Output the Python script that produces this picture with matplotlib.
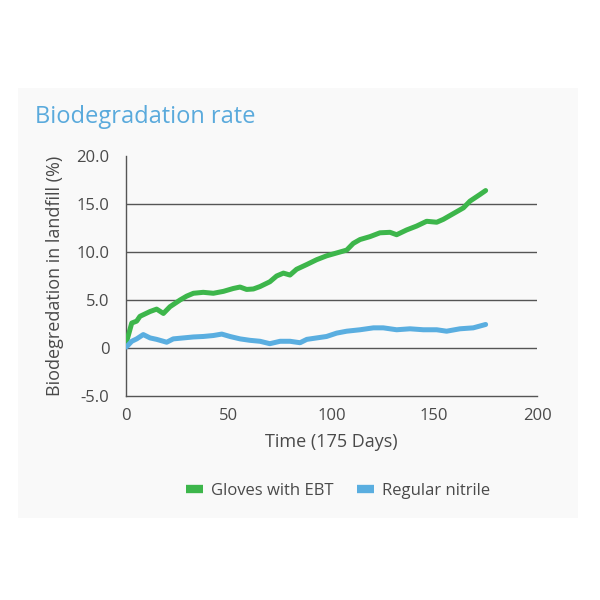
import matplotlib
matplotlib.use("Agg")
import matplotlib.pyplot as plt
from matplotlib.patches import Rectangle
from matplotlib.lines import Line2D

plt.rcParams['font.family'] = ['Open Sans', 'DejaVu Sans']

# Data
ebt_days = [0, 0.6, 2.8, 5.2, 6.8, 11.7, 14.9, 18.2, 21.4, 26.3, 29.5, 32.8, 37.6, 42.5, 47.4,
            52.2, 55.5, 58.7, 62, 65.2, 70, 73.3, 76.6, 79.8, 83, 88, 92.8, 97.6, 102.5,
            107.4, 110.6, 113.9, 118.7, 123.6, 128.5, 131.7, 136.6, 141.4, 146.3, 151.2,
            154.4, 159.3, 164.2, 167.4, 172.3, 175]
ebt_vals = [0.3, 0.9, 2.6, 2.8, 3.3, 3.8, 4.05, 3.6, 4.3, 5.0, 5.4, 5.7, 5.8, 5.7, 5.9,
            6.2, 6.35, 6.1, 6.15, 6.4, 6.9, 7.5, 7.8, 7.6, 8.2, 8.7, 9.2, 9.6, 9.9,
            10.2, 10.9, 11.3, 11.6, 12.0, 12.05, 11.8, 12.3, 12.7, 13.2, 13.1,
            13.4, 14.0, 14.6, 15.3, 16.0, 16.4]

nit_days = [0, 0.6, 2.8, 5.2, 8.4, 11.7, 14.9, 18.2, 19.8, 23, 27.9, 32.8, 37.6, 42.5, 46.6,
            50.6, 55.5, 60.3, 65.2, 70, 75, 79.8, 84.7, 88, 92.8, 97.6, 102.5, 107.4,
            113.9, 120.4, 125.2, 131.7, 138.2, 144.7, 151.2, 156, 162.5, 169, 175]
nit_vals = [0.1, 0.2, 0.7, 0.95, 1.4, 1.05, 0.9, 0.7, 0.6, 0.95, 1.05, 1.15, 1.2, 1.3, 1.45,
            1.2, 0.95, 0.8, 0.7, 0.45, 0.7, 0.7, 0.55, 0.9, 1.05, 1.2, 1.55, 1.75,
            1.9, 2.1, 2.1, 1.9, 2.0, 1.9, 1.9, 1.75, 2.0, 2.1, 2.45]

series_names = ["Gloves with EBT", "Regular nitrile"]
series_colors = ["#3db64b", "#5aaee0"]
y_ticks = [-5, 0, 5, 10, 15, 20]
y_ticklabels = ["-5.0", "0", "5.0", "10.0", "15.0", "20.0"]
x_ticks = [0, 50, 100, 150, 200]

fig = plt.figure(figsize=(6, 6), dpi=100)
fig.patch.set_facecolor("white")

# faint paper panel
fig.patches.append(Rectangle((18 / 600, 1 - 518 / 600), 560 / 600, 430 / 600,
                             transform=fig.transFigure, facecolor="#f9f9f9",
                             edgecolor="none", zorder=-5))

fig.text(35 / 600, 1 - 117 / 600, "Biodegradation rate", color="#5aaadc",
         fontsize=17, ha="left", va="center")

ax = fig.add_axes([126 / 600, 1 - 396 / 600, 411 / 600, 240 / 600])
ax.set_zorder(2)
ax.set_facecolor("none")
ax.set_xlim(0, 200)
ax.set_ylim(-5, 20)

for y in [0, 5, 10, 15]:
    ax.axhline(y, color="#555555", lw=1.0, zorder=1)

ax.plot(ebt_days, ebt_vals, color=series_colors[0], lw=3.6, solid_capstyle="round",
        solid_joinstyle="round", zorder=3)
ax.plot(nit_days, nit_vals, color=series_colors[1], lw=3.6, solid_capstyle="round",
        solid_joinstyle="round", zorder=3)

for s in ["top", "right"]:
    ax.spines[s].set_visible(False)
for s in ["left", "bottom"]:
    ax.spines[s].set_color("#555555")
    ax.spines[s].set_linewidth(1.0)

ax.set_yticks(y_ticks)
ax.set_yticklabels(y_ticklabels)
ax.set_xticks(x_ticks)
ax.tick_params(length=0, labelsize=12, labelcolor="#4a4a4a", pad=9)
ax.tick_params(axis="y", pad=12)

ax.set_ylabel("Biodegredation in landfill (%)", fontsize=13, color="#4a4a4a", labelpad=9)
ax.set_xlabel("Time (175 Days)", fontsize=13, color="#4a4a4a", labelpad=6)

handles = [Line2D([0], [0], color=c, lw=6, solid_capstyle="butt") for c in series_colors]
fig.legend(handles, series_names, loc="center", bbox_to_anchor=(338 / 600, 1 - 491 / 600),
           ncol=2, frameon=False, fontsize=12, handlelength=1.0, handletextpad=0.5,
           columnspacing=1.4, labelcolor="#4a4a4a")

fig.savefig("out.png", dpi=100)
